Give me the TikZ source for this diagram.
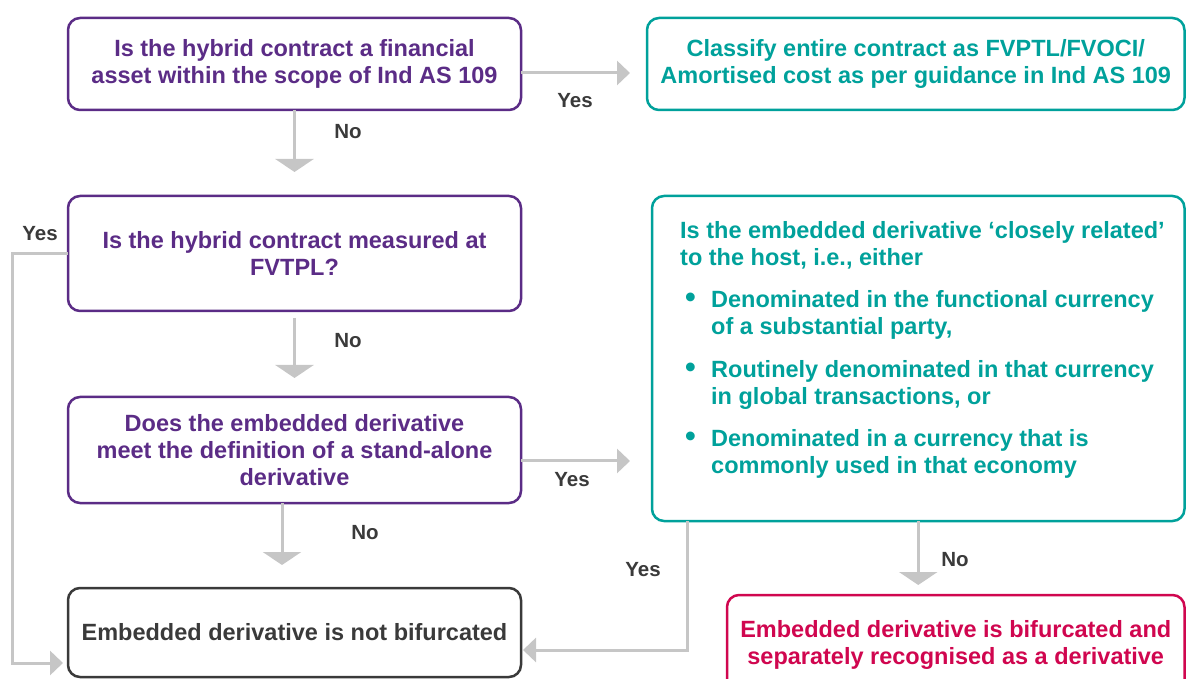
\documentclass[tikz,border=0pt]{standalone}
\usepackage{fontspec}
\setmainfont{Liberation Sans}
\usepackage{xcolor}
\usetikzlibrary{arrows.meta,positioning,calc}

\definecolor{kpurple}{HTML}{5B2C86}
\definecolor{kteal}{HTML}{00A19B}
\definecolor{kred}{HTML}{D0064F}
\definecolor{kgray}{HTML}{C6C6C6}
\definecolor{kdark}{HTML}{3A3A3A}

\newcommand{\boxfont}{\fontsize{23.5pt}{27pt}\selectfont\bfseries}
\newcommand{\lblfont}{\fontsize{20.5pt}{24pt}\selectfont\bfseries}
\newcommand{\bitem}[2]{\hspace*{5pt}\makebox[26pt][l]{\scalebox{1.3}{\textbullet}}#1\\\hspace*{31pt}#2}

\begin{document}
\begin{tikzpicture}[
      x=1pt, y=1pt,
      box/.style={
        rectangle,
        line width=2.5pt,
        outer sep=0pt,
        rounded corners=12pt,
        align=center,
        font=\boxfont
      },
      qbox/.style={box, draw=kpurple, text=kpurple, minimum width=453pt},
      tbox/.style={box, draw=kteal, text=kteal},
      ebox/.style={box, draw=kdark, text=kdark, minimum width=453pt},
      rbox/.style={box, draw=kred, text=kred},
      arrowdn/.style={draw=kgray, line width=3pt, -{Triangle[width=38pt,length=13pt]}},
      arrowsd/.style={draw=kgray, line width=3pt, -{Triangle[width=24pt,length=13pt]}},
      lbl/.style={text=kdark, font=\lblfont, inner sep=0pt},
      node distance=86pt
    ]
    \useasboundingbox (0,0) rectangle (1186,678);
    \clip (0,0) rectangle (1186,678);

    % Questions on the left
    \node[qbox, minimum height=92pt] (scope) at (294.5,614) {Is the hybrid contract a financial\\asset within the scope of Ind AS 109};
    \node[tbox, minimum width=537.5pt, minimum height=92pt, right=126pt of scope] (classify) {Classify entire contract as FVPTL/FVOCI/\\Amortised cost as per guidance in Ind AS 109};
    \node[qbox, minimum height=115pt, below=of scope] (fvtpl) {Is the hybrid contract measured at\\FVTPL?};
    \node[qbox, minimum height=106pt, below=of fvtpl] (standalone) {Does the embedded derivative\\meet the definition of a stand-alone\\derivative};
    \node[ebox, minimum height=89pt, below=85pt of standalone] (notbif) {Embedded derivative is not bifurcated};

    % Closely related test and outcome
    \node[tbox, minimum width=532.5pt, minimum height=325pt] (closely) at (918.25,319.5) {};
    \node[anchor=north west, inner sep=0pt, align=left, text=kteal, font=\boxfont] (closelytext) at ([xshift=28pt,yshift=-25pt]closely.north west) {Is the embedded derivative ‘closely related’\\to the host, i.e., either\\[15.5pt]
      \bitem{Denominated in the functional currency}{of a substantial party,}\\[15.5pt]
      \bitem{Routinely denominated in that currency}{in global transactions, or}\\[15.5pt]
      \bitem{Denominated in a currency that is}{commonly used in that economy}};
    \node[rbox, minimum width=457.5pt, minimum height=100pt] (bif) at (955.75,33) {Embedded derivative is bifurcated and\\separately recognised as a derivative};

    % Connectors
    \draw[arrowsd, shorten >=17pt] ([yshift=-9pt]scope.east) -- ([yshift=-9pt]classify.west);
    \draw[arrowdn, shorten >=24pt] (scope) -- (fvtpl);
    \draw[arrowdn, shorten <=7pt, shorten >=19pt] (fvtpl) -- (standalone);
    \draw[arrowdn, shorten >=23pt] ([xshift=-12.5pt]standalone.south) -- ([xshift=-12.5pt]notbif.north);
    \draw[arrowsd, shorten >=22pt] ([yshift=-11pt]standalone.east) -- ([yshift=-11pt]standalone.east -| closely.west);
    \coordinate (yesleft) at (12,0);
    \draw[arrowsd, shorten >=5pt] (fvtpl.west) -- (fvtpl.west -| yesleft) |- ([yshift=-30.5pt]notbif.west);
    \draw[arrowsd, shorten >=2pt] ([xshift=-231pt]closely.south) |- ([yshift=-17.5pt]notbif.east);
    \draw[arrowdn, shorten >=10pt] (closely.south) -- (closely.south |- bif.north);

    % Yes / No labels
    \node[lbl] (yes1) at (575,577) {Yes};
    \node[lbl] (no1) at (348,546) {No};
    \node[lbl] (yes3) at (40,444) {Yes};
    \node[lbl] (no2) at (348,337) {No};
    \node[lbl] (yes2) at (572,198) {Yes};
    \node[lbl] (no3) at (365,145) {No};
    \node[lbl] (yes4) at (643,108) {Yes};
    \node[lbl] (no4) at (955,118) {No};
  \end{tikzpicture}
\end{document}
